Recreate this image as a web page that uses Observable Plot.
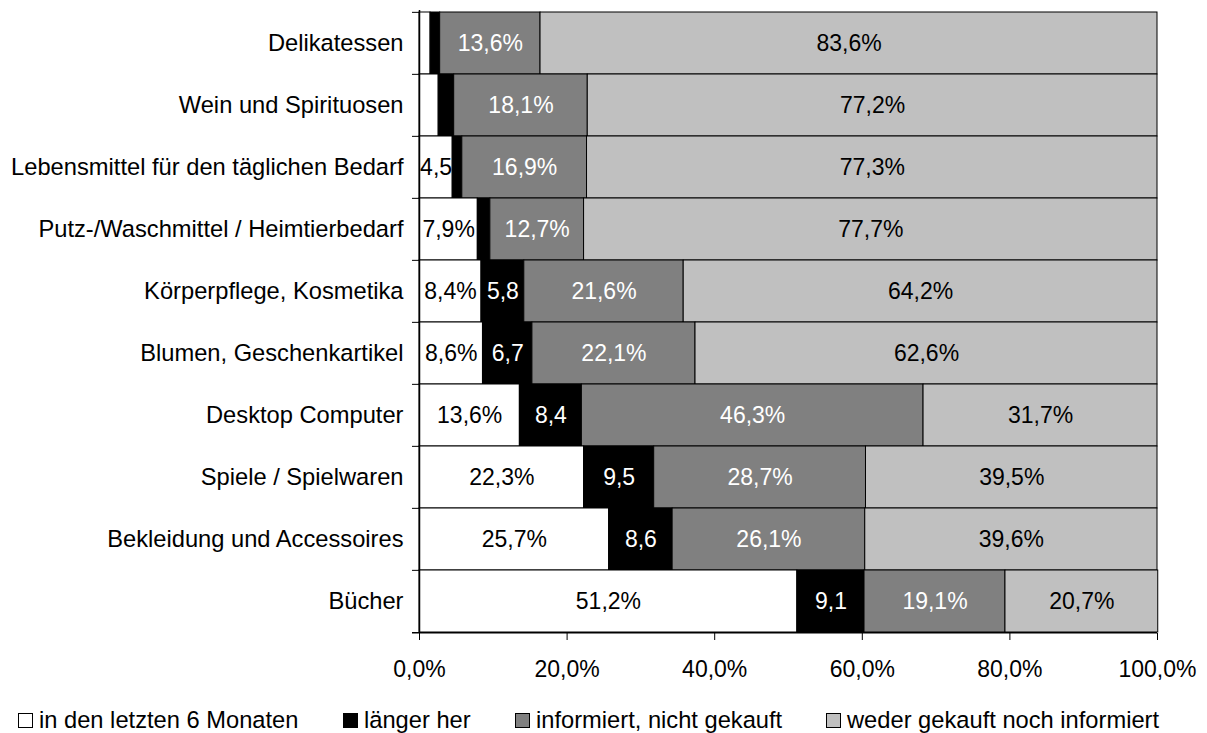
<!DOCTYPE html>
<html><head><meta charset="utf-8">
<script src="https://cdn.jsdelivr.net/npm/d3@7"></script>
<script src="https://cdn.jsdelivr.net/npm/@observablehq/plot@0.6"></script>
<style>
body{margin:0;background:#fff;font-family:"Liberation Sans",Arial,sans-serif;}
#chart svg{display:block;}
#legend{position:relative;height:43px;font-size:23.7px;color:#000;}
.item{position:absolute;top:17px;height:26px;display:flex;align-items:center;white-space:nowrap;}
.sw{width:15px;height:15px;border:1px solid #000;margin-right:6px;box-sizing:border-box;}
</style></head><body>
<div id="chart"></div>
<div id="legend"></div>
<script>
const categories = ["Delikatessen","Wein und Spirituosen","Lebensmittel für den täglichen Bedarf","Putz-/Waschmittel / Heimtierbedarf","Körperpflege, Kosmetika","Blumen, Geschenkartikel","Desktop Computer","Spiele / Spielwaren","Bekleidung und Accessoires","Bücher"];
const seriesNames = ["in den letzten 6 Monaten","länger her","informiert, nicht gekauft","weder gekauft noch informiert"];
const seriesColors = ["#ffffff","#000000","#808080","#c0c0c0"];
const labelColors = ["#000000","#ffffff","#ffffff","#000000"];
const letzte6 = [1.5,2.6,4.5,7.9,8.4,8.6,13.6,22.3,25.7,51.2];
const laenger = [1.3,2.1,1.3,1.7,5.8,6.7,8.4,9.5,8.6,9.1];
const informiert = [13.6,18.1,16.9,12.7,21.6,22.1,46.3,28.7,26.1,19.1];
const weder = [83.6,77.2,77.3,77.7,64.2,62.6,31.7,39.5,39.6,20.7];
const xTicks = [0,20,40,60,80,100];

const seriesValues = [letzte6, laenger, informiert, weder];
const fmt = v => v.toFixed(1).replace(".", ",");
const data = [];
categories.forEach((c, i) => {
  seriesValues.forEach((vals, s) => {
    const v = vals[i];
    let label = "";
    if (v >= 3) label = (s === 1 || v < 5) ? fmt(v) : fmt(v) + "%";
    data.push({category: c, series: seriesNames[s], s, value: v, label});
  });
});

const W = 1207, H = 690, mt = 10, mb = 57;
const step = (H - mt - mb) / categories.length;

const chart = Plot.plot({
  width: W, height: H,
  marginLeft: 419, marginRight: 50, marginTop: mt, marginBottom: mb,
  style: {fontFamily: "Liberation Sans, Arial, sans-serif", fontSize: "23px", color: "#000", background: "#fff"},
  x: {domain: [0, 100], ticks: xTicks, tickFormat: d => fmt(d) + "%", label: null},
  y: {domain: categories, padding: 0, label: null},
  color: {domain: seriesNames, range: seriesColors},
  marks: [
    Plot.barX(data, Plot.stackX({x: "value", y: "category", z: "series", order: null, fill: "series", stroke: "#000", strokeWidth: 1, inset: 0})),
    Plot.text(data, Plot.stackX({x: "value", y: "category", z: "series", order: null, text: "label", fill: d => labelColors[d.s], fontSize: 23})),
    Plot.ruleX([0], {stroke: "#000", strokeWidth: 1.5}),
    Plot.ruleY(categories, {y: d => d, x1: -0.95, x2: 0, dy: -step / 2, stroke: "#000"}),
    Plot.ruleY([categories[categories.length - 1]], {y: d => d, x1: -0.95, x2: 100, dy: step / 2, stroke: "#000", strokeWidth: 1.5}),
    Plot.axisX({ticks: xTicks, tickFormat: d => fmt(d) + "%", tickSize: 7, tickPadding: 20, fontSize: 23, label: null}),
    Plot.axisY({tickSize: 0, tickPadding: 16, fontSize: 23.7, label: null})
  ]
});
document.getElementById("chart").appendChild(chart);

const lefts = [18, 343, 515, 826];
const legend = document.getElementById("legend");
seriesNames.forEach((n, i) => {
  const it = document.createElement("div");
  it.className = "item";
  it.style.left = lefts[i] + "px";
  it.innerHTML = `<span class="sw" style="background:${seriesColors[i]}"></span><span>${n}</span>`;
  legend.appendChild(it);
});
</script>
</body></html>
